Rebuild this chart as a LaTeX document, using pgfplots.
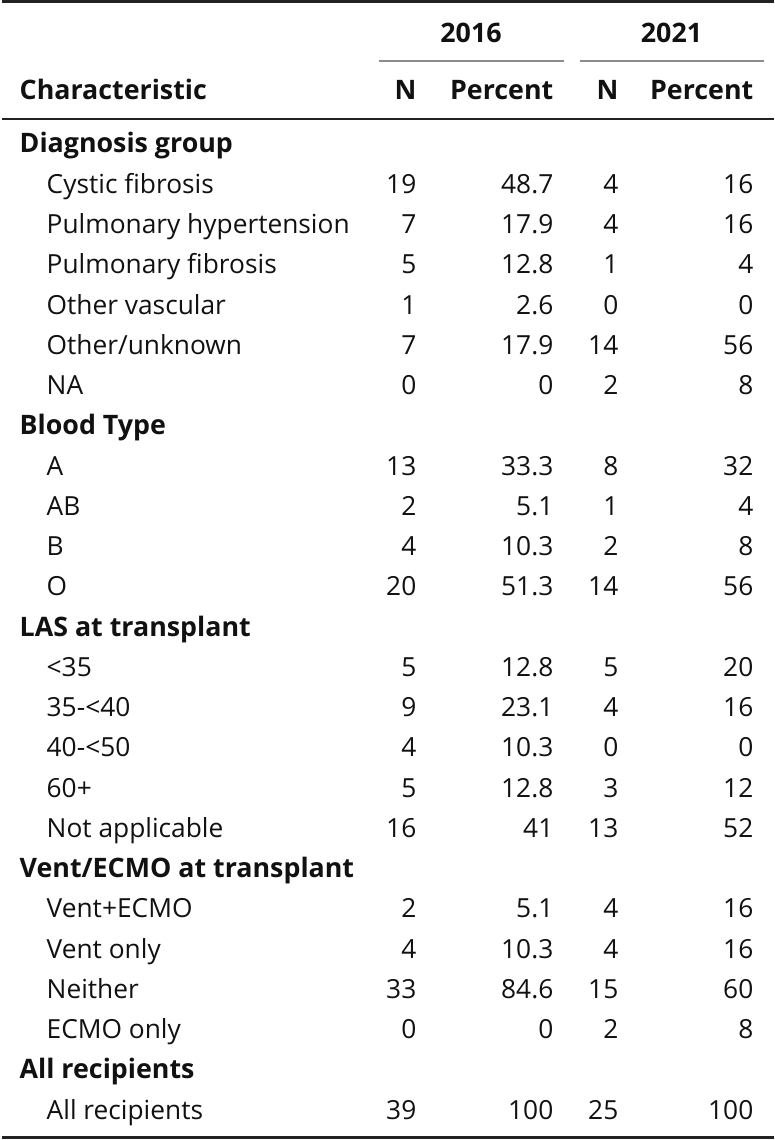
\documentclass[border=0pt]{standalone}
\usepackage{fontspec}
\setmainfont{Open Sans}
\usepackage{pgfplots}
\usepackage{pgfplotstable}
\pgfplotsset{compat=1.18}
\newcommand\tfont{\fontsize{26.3bp}{31bp}\selectfont}
\newcommand\bfont{\fontsize{26.8bp}{31bp}\selectfont\bfseries}
\definecolor{txt}{HTML}{111111}
\definecolor{rule}{HTML}{222222}
\definecolor{span}{HTML}{8C8C8C}

% row index r: baseline y = 153 + 40.25*r (pixels from the top)
\pgfplotstableread[col sep=comma,row sep=\\]{
r,label,n16,p16,n21,p21\\
1,Cystic fibrosis,19,48.7,4,16\\
2,Pulmonary hypertension,7,17.9,4,16\\
3,Pulmonary fibrosis,5,12.8,1,4\\
4,Other vascular,1,2.6,0,0\\
5,Other/unknown,7,17.9,14,56\\
6,NA,0,0,2,8\\
8,A,13,33.3,8,32\\
9,AB,2,5.1,1,4\\
10,B,4,10.3,2,8\\
11,O,20,51.3,14,56\\
13,<35,5,12.8,5,20\\
14,35-<40,9,23.1,4,16\\
15,40-<50,4,10.3,0,0\\
16,60+,5,12.8,3,12\\
17,Not applicable,16,41,13,52\\
19,Vent+ECMO,2,5.1,4,16\\
20,Vent only,4,10.3,4,16\\
21,Neither,33,84.6,15,60\\
22,ECMO only,0,0,2,8\\
24,All recipients,39,100,25,100\\
}\rowtab

\pgfplotstableread[col sep=comma,row sep=\\]{
r,label\\
0,Diagnosis group\\
7,Blood Type\\
12,LAS at transplant\\
18,Vent/ECMO at transplant\\
23,All recipients\\
}\grouptab

\pgfplotstableread[col sep=comma,row sep=\\]{
x,y,label\\
415,100,N\\
552,100,Percent\\
617,100,N\\
752,100,Percent\\
}\headright

\pgfplotstableread[col sep=comma,row sep=\\]{
x,y,label\\
469.5,43,2016\\
670,43,2021\\
}\headcenter

\begin{document}
\begin{tikzpicture}
\begin{axis}[
  scale only axis, width=772bp, height=1140bp,
  xmin=0, xmax=772, ymin=0, ymax=1140, y dir=reverse,
  hide axis, clip=false,
  txtstyle/.style={draw=none, mark=none, nodes near coords,
    point meta=explicit symbolic},
]
% background
\addplot[fill=white, draw=none] coordinates {(0,0) (772,0) (772,1140) (0,1140)} \closedcycle;
% rules
\addplot[rule, line width=3bp] coordinates {(0,1.5) (772,1.5)};
\addplot[span, line width=1.5bp] coordinates {(377,61) (562,61)};
\addplot[span, line width=1.5bp] coordinates {(578,61) (762,61)};
\addplot[rule, line width=2bp] coordinates {(0,119) (772,119)};
\addplot[rule, line width=3bp] coordinates {(0,1137) (772,1137)};
% header
\addplot[txtstyle, every node near coord/.append style={anchor=base, inner sep=0pt, text=txt, font=\bfont}]
  table[x=x, y=y, meta=label] {\headcenter};
\addplot[txtstyle, every node near coord/.append style={anchor=base east, inner sep=0pt, text=txt, font=\bfont}]
  table[x=x, y=y, meta=label] {\headright};
\addplot[txtstyle, every node near coord/.append style={anchor=base west, inner sep=0pt, text=txt, font=\bfont}]
  coordinates {(18,100) [Characteristic]};
% group labels
\addplot[txtstyle, every node near coord/.append style={anchor=base west, inner sep=0pt, text=txt, font=\bfont}]
  table[x expr=18, y expr=153+40.25*\thisrow{r}, meta=label] {\grouptab};
% row labels
\addplot[txtstyle, every node near coord/.append style={anchor=base west, inner sep=0pt, text=txt, font=\tfont}]
  table[x expr=45, y expr=153+40.25*\thisrow{r}, meta=label] {\rowtab};
% numbers
\addplot[txtstyle, every node near coord/.append style={anchor=base east, inner sep=0pt, text=txt, font=\tfont}]
  table[x expr=415, y expr=153+40.25*\thisrow{r}, meta=n16] {\rowtab};
\addplot[txtstyle, every node near coord/.append style={anchor=base east, inner sep=0pt, text=txt, font=\tfont}]
  table[x expr=552, y expr=153+40.25*\thisrow{r}, meta=p16] {\rowtab};
\addplot[txtstyle, every node near coord/.append style={anchor=base east, inner sep=0pt, text=txt, font=\tfont}]
  table[x expr=617, y expr=153+40.25*\thisrow{r}, meta=n21] {\rowtab};
\addplot[txtstyle, every node near coord/.append style={anchor=base east, inner sep=0pt, text=txt, font=\tfont}]
  table[x expr=752, y expr=153+40.25*\thisrow{r}, meta=p21] {\rowtab};
\end{axis}
\end{tikzpicture}
\end{document}
